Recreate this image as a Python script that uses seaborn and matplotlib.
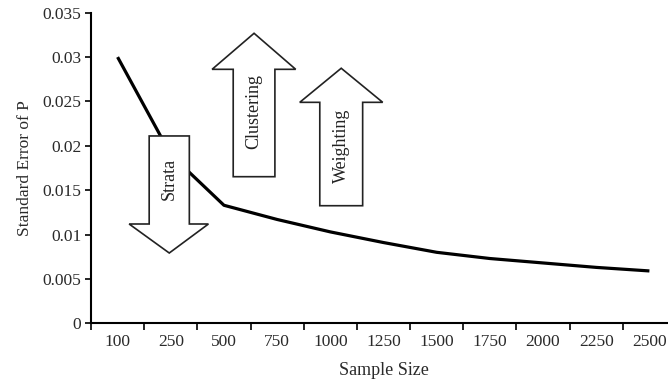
import matplotlib
matplotlib.use("Agg")
import matplotlib.pyplot as plt
import seaborn as sns
import pandas as pd
from matplotlib.patches import Polygon

# ---- data ----
sample_sizes = ["100", "250", "500", "750", "1000", "1250", "1500", "1750", "2000", "2250", "2500"]
std_error = [0.0300, 0.0190, 0.0133, 0.0117, 0.0103, 0.0091, 0.0080, 0.0073, 0.0068, 0.0063, 0.0059]
y_ticks = [0, 0.005, 0.01, 0.015, 0.02, 0.025, 0.03, 0.035]
y_tick_labels = ["0", "0.005", "0.01", "0.015", "0.02", "0.025", "0.03", "0.035"]

# annotation arrows: (label, direction, body_x0, body_x1, body_end_y, head_base_y, head_x0, head_x1, tip_y, text_y)
arrows = [
    ("Strata", "down", 0.594, 1.349, 0.02111, 0.01119, 0.217, 1.708, 0.00792, 0.0163),
    ("Clustering", "up", 2.174, 2.958, 0.01652, 0.02862, 1.777, 3.349, 0.03268, 0.0239),
    ("Weighting", "up", 3.802, 4.608, 0.01325, 0.0249, 3.425, 4.985, 0.02874, 0.0200),
]

df = pd.DataFrame({"Sample Size": sample_sizes, "SE": std_error})

sns.set_style("white")
plt.rcParams["font.family"] = ["Liberation Serif", "DejaVu Serif"]

fig = plt.figure(figsize=(6.68, 3.83), dpi=100)
ax = fig.add_axes([91 / 668, (383 - 323.3) / 383, 585 / 668, (323.3 - 12.7) / 383])

sns.lineplot(data=df, x="Sample Size", y="SE", sort=False, color="black",
             linewidth=2.3, ax=ax, zorder=2)
for ln in ax.lines:
    ln.set_solid_joinstyle("round")
    ln.set_solid_capstyle("butt")

ax.set_xlim(-0.5, 10.5)
ax.set_ylim(0, 0.035)

# category axis: tick marks at boundaries, labels at centers
ax.set_xticks([i - 0.5 for i in range(len(sample_sizes) + 1)])
ax.set_xticklabels([])
ax.set_xticks(range(len(sample_sizes)), minor=True)
ax.set_xticklabels(sample_sizes, minor=True)
ax.tick_params(axis="x", which="major", bottom=True, length=5, width=1.2,
               direction="out", color="black")
ax.tick_params(axis="x", which="minor", bottom=True, length=0, pad=8,
               labelsize=12.5, labelcolor="#2a2a2a")

ax.set_yticks(y_ticks)
ax.set_yticklabels(y_tick_labels)
ax.tick_params(axis="y", left=True, length=4, width=1.2, direction="out", color="black",
               labelsize=12.5, labelcolor="#2a2a2a", pad=3)

for side in ["top", "right"]:
    ax.spines[side].set_visible(False)
for side in ["left", "bottom"]:
    ax.spines[side].set_color("black")
    ax.spines[side].set_linewidth(1.5)

ax.set_xlabel("Sample Size", fontsize=13, color="#2a2a2a", labelpad=8)
ax.set_ylabel("Standard Error of P", fontsize=12.5, color="#2a2a2a", labelpad=7)

for label, d, bx0, bx1, by, hy, hx0, hx1, ty, text_y in arrows:
    cx = (bx0 + bx1) / 2
    pts = [(bx0, by), (bx1, by), (bx1, hy), (hx1, hy), (cx, ty), (hx0, hy), (bx0, hy)]
    poly = Polygon(pts, closed=True, facecolor="white", edgecolor="#222222",
                   linewidth=1.2, zorder=5, clip_on=False)
    ax.add_patch(poly)
    ax.text(cx, text_y, label, rotation=90, ha="center", va="center",
            fontsize=13, color="#222222", zorder=6)

fig.savefig("out.png", dpi=100)
